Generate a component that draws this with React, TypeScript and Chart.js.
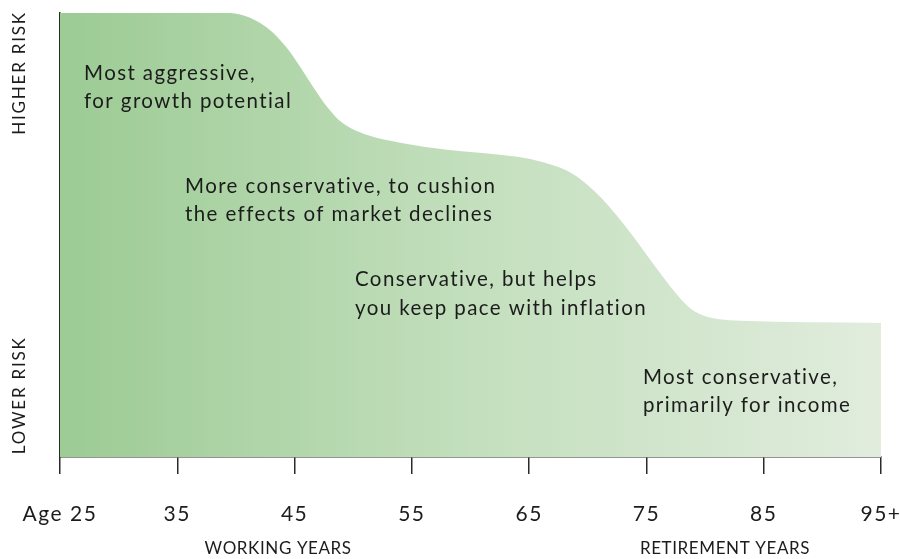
import React, { useEffect, useRef } from "react";
import { Chart, registerables } from "chart.js";

Chart.register(...registerables);

// Age (x) and relative risk level (y, 0..100)
const ages = [25, 39.2, 40.6, 42.6, 44.3, 45.5, 46.6, 47.8, 49.1, 51.2, 54.0, 58.0, 64.0, 66.2, 67.5, 68.8, 70.0, 71.2, 72.4, 73.6, 75.0, 76.4, 77.6, 78.6, 79.8, 81.2, 83.0, 95];
const riskLevel = [100, 100, 99.5, 96.8, 92.3, 87.8, 83.3, 78.8, 75.2, 72.5, 70.8, 69.2, 67.6, 66.4, 65.3, 63.6, 61.2, 58.2, 54.6, 50.6, 45.6, 40.6, 36.6, 33.8, 31.9, 31.0, 30.7, 30.2];

const tickAges = [25, 35, 45, 55, 65, 75, 85, 95];
const tickLabels = ["Age 25", "35", "45", "55", "65", "75", "85", "95+"];

const annotationLines = [
  ["Most aggressive,", "for growth potential"],
  ["More conservative, to cushion", "the effects of market declines"],
  ["Conservative, but helps", "you keep pace with inflation"],
  ["Most conservative,", "primarily for income"],
];
const annotationAges = [27.05, 35.66, 50.15, 74.7];
const annotationLevels = [86.5, 61.0, 39.9, 18.0];

const periodLabels = ["WORKING YEARS", "RETIREMENT YEARS"];
const periodAges = [43.6, 81.7];

const riskLabels = ["HIGHER RISK", "LOWER RISK"];
const riskLabelLevels = [86.5, 13.9];

const FONT = "Lato, 'Noto Sans', sans-serif";
const TEXT = "#1c1c1c";

export default function App() {
  const ref = useRef<HTMLCanvasElement | null>(null);

  useEffect(() => {
    const canvas = ref.current;
    if (!canvas) return;

    const textPlugin = {
      id: "texts",
      beforeDraw(chart: any) {
        // slightly spaced tick labels (Avenir-like width)
        (chart.ctx as any).letterSpacing = "1.5px";
      },
      beforeDatasetsDraw(chart: any) {
        (chart.ctx as any).letterSpacing = "0px";
      },
      afterDraw(chart: any) {
        const { ctx, scales } = chart;
        const xs = scales.x;
        const ys = scales.y;
        ctx.save();
        ctx.fillStyle = TEXT;
        // annotations
        ctx.font = `20.5px ${FONT}`;
        (ctx as any).letterSpacing = "1.4px";
        ctx.textAlign = "left";
        ctx.textBaseline = "middle";
        annotationLines.forEach((lines, i) => {
          const x = xs.getPixelForValue(annotationAges[i]);
          const y = ys.getPixelForValue(annotationLevels[i]);
          lines.forEach((l, j) => ctx.fillText(l, x, y + j * 28.5));
        });
        // period labels
        ctx.font = `17px ${FONT}`;
        (ctx as any).letterSpacing = "0.6px";
        ctx.textAlign = "center";
        periodLabels.forEach((l, i) => {
          ctx.fillText(l, xs.getPixelForValue(periodAges[i]), 549);
        });
        // risk labels (rotated)
        ctx.font = `17px ${FONT}`;
        (ctx as any).letterSpacing = "1.8px";
        riskLabels.forEach((l, i) => {
          ctx.save();
          ctx.translate(20, ys.getPixelForValue(riskLabelLevels[i]));
          ctx.rotate(-Math.PI / 2);
          ctx.fillText(l, 0, 0);
          ctx.restore();
        });
        ctx.restore();
        (ctx as any).letterSpacing = "0px";
      },
    };

    const chart = new Chart(canvas, {
      type: "line",
      data: {
        datasets: [
          {
            data: ages.map((a, i) => ({ x: a, y: riskLevel[i] })),
            fill: "origin",
            borderWidth: 0,
            pointRadius: 0,
            cubicInterpolationMode: "monotone",
            backgroundColor: (c: any) => {
              const area = c.chart.chartArea;
              if (!area) return "#b5d6ae";
              const g = c.chart.ctx.createLinearGradient(area.left, 0, area.right, 0);
              g.addColorStop(0, "#9ccb94");
              g.addColorStop(0.5, "#c3dfbd");
              g.addColorStop(1, "#e1ecdd");
              return g;
            },
          },
        ],
      },
      options: {
        responsive: false,
        animation: false,
        layout: { padding: { top: 13, right: 19, left: 0, bottom: 0 } },
        plugins: { legend: { display: false }, tooltip: { enabled: false } },
        scales: {
          x: {
            type: "linear",
            min: 25,
            max: 95,
            afterFit: (s: any) => {
              s.height = 102;
              s.paddingLeft = 0;
              s.paddingRight = 0;
            },
            afterBuildTicks: (s: any) => {
              s.ticks = tickAges.map((v) => ({ value: v }));
            },
            ticks: {
              autoSkip: false,
              maxRotation: 0,
              padding: 28,
              color: TEXT,
              font: { family: FONT, size: 21 },
              callback: (v: any) => {
                const i = tickAges.indexOf(Number(v));
                return i >= 0 ? tickLabels[i] : "";
              },
            },
            grid: {
              display: true,
              drawOnChartArea: false,
              drawTicks: true,
              tickLength: 17,
              color: "#2a2a2a",
              lineWidth: 1.5,
            },
            border: { display: true, color: "#2a2a2a", width: 1.5 },
          },
          y: {
            min: 0,
            max: 100,
            afterFit: (s: any) => {
              s.width = 60;
            },
            ticks: { display: false },
            grid: { display: false },
            border: { display: true, color: "#2a2a2a", width: 1.5 },
          },
        },
      },
      plugins: [textPlugin],
    } as any);

    return () => chart.destroy();
  }, []);

  return (
    <div style={{ position: "fixed", left: 0, top: 0, width: 900, height: 559, background: "#fff" }}>
      <canvas ref={ref} width={900} height={559} />
    </div>
  );
}
